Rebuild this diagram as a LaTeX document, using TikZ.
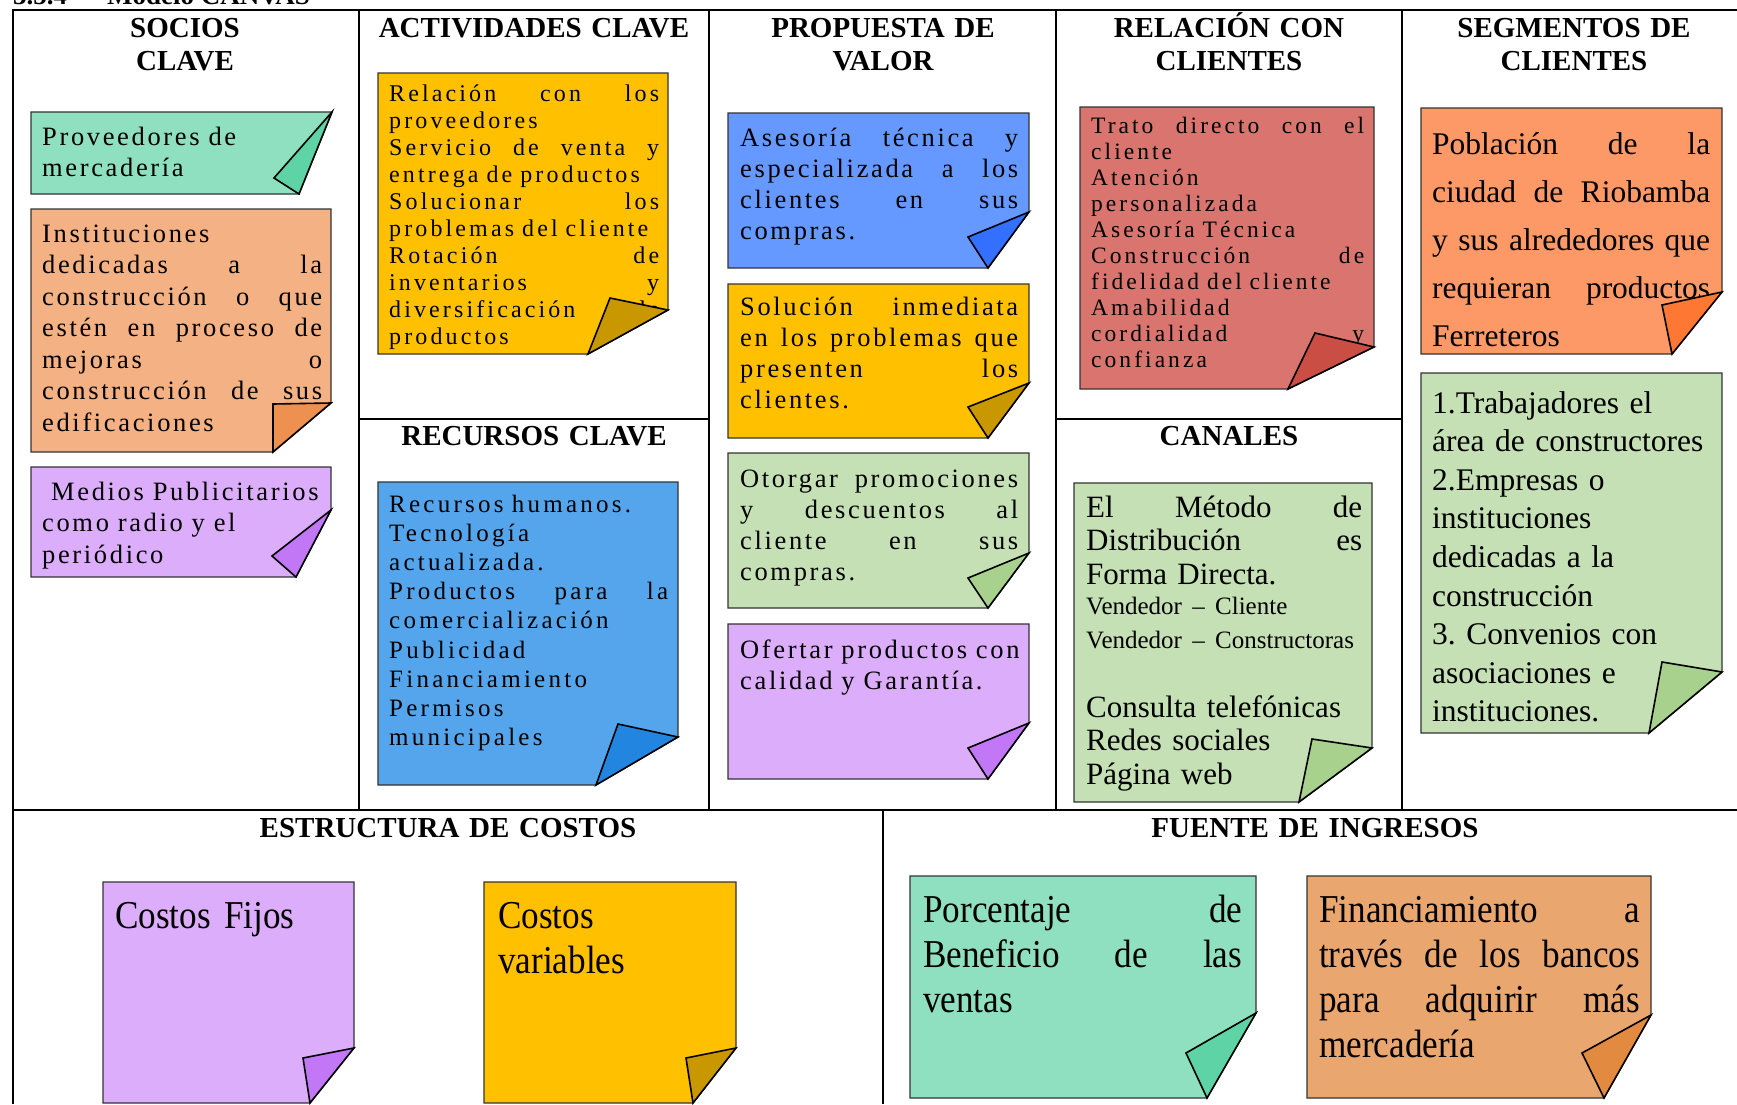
\documentclass[tikz,border=0pt]{standalone}
\usepackage{fontspec}
\setmainfont{Liberation Serif}
\newfontfamily\narrowserif[FakeStretch=0.89]{Liberation Serif}
\newfontfamily\trackserif[LetterSpace=10]{Liberation Serif}
\newfontfamily\widetrackserif[LetterSpace=13]{Liberation Serif}
\usetikzlibrary{positioning}

% sticky note colours (body / folded corner)
\definecolor{mint}{HTML}{8EE0C0}   \definecolor{mintFold}{HTML}{5DD3A6}
\definecolor{salmon}{HTML}{F4B183} \definecolor{salmonFold}{HTML}{EE9150}
\definecolor{lilac}{HTML}{DCADFB}  \definecolor{lilacFold}{HTML}{C278F6}
\definecolor{gold}{HTML}{FFC000}   \definecolor{goldFold}{HTML}{C99700}
\definecolor{sky}{HTML}{6699FF}    \definecolor{skyFold}{HTML}{3370FF}
\definecolor{sage}{HTML}{C5E0B4}   \definecolor{sageFold}{HTML}{A9D18E}
\definecolor{rose}{HTML}{D9746E}   \definecolor{roseFold}{HTML}{CB4E45}
\definecolor{azure}{HTML}{55A5EC}  \definecolor{azureFold}{HTML}{2286E0}
\definecolor{tanger}{HTML}{FC9966} \definecolor{tangerFold}{HTML}{FE7733}
\definecolor{sand}{HTML}{EAA66F}   \definecolor{sandFold}{HTML}{E38A41}

% x0/y0/x1/y1/corner y/bottom x/fold x/fold y/colour
\def\notelist{31/112/332/194/112/299/274/178/mint,
  31/209/331/452/403/273/273/404/salmon,
  31/467/331/577/510/296/272/556/lilac,
  378/73/668/354/310/588/610/298/gold,
  378/482/678/785/737/596/618/724/azure,
  728/113/1029/268/212/988/968/237/sky,
  728/284/1029/438/383/988/968/407/gold,
  728/453/1029/608/553/988/968/578/sage,
  728/624/1029/779/723/988/968/748/lilac,
  1080/107/1374/389/347/1288/1315/333/rose,
  1074/483/1372/802/748/1299/1312/739/sage,
  1421/108/1722/354/292/1672/1662/305/tanger,
  1421/373/1722/733/672/1649/1662/662/sage,
  103/882/354/1103/1048/310/303/1058/lilac,
  484/882/736/1103/1048/693/686/1058/gold,
  910/876/1256/1098/1013/1207/1186/1053/mint,
  1307/876/1651/1098/1015/1604/1582/1053/sand}

\begin{document}
\begin{tikzpicture}[x=1pt,y=-1pt,
    frame/.style={line width=2.6pt},
    head/.style={font=\bfseries\fontsize{29}{33}\selectfont,text width=420pt,align=center,anchor=base,inner sep=0pt},
    sheet/.style={draw=black!80,line width=1.3pt},
    fold/.style={draw=black,line width=1.6pt},
    txt/.style={anchor=base west,inner sep=0pt,align=left},
    socio/.style={txt,text width=280pt,font=\trackserif\fontsize{26.5}{31.5}\selectfont},
    actividad/.style={txt,text width=270pt,font=\widetrackserif\fontsize{24}{27.1}\selectfont},
    recurso/.style={txt,text width=279pt,font=\widetrackserif\fontsize{25}{29.2}\selectfont},
    propuesta/.style={txt,text width=278pt,font=\trackserif\fontsize{26.5}{31}\selectfont},
    relacion/.style={txt,text width=273pt,font=\widetrackserif\fontsize{23.5}{26}\selectfont},
    canal/.style={txt,text width=276pt,font=\fontsize{31}{33.5}\selectfont},
    segmento/.style={txt,text width=278pt,font=\fontsize{31.5}{48}\selectfont},
    costo/.style={txt,text width=330pt,font=\narrowserif\fontsize{39.5}{45}\selectfont}]
    \useasboundingbox (0,0) rectangle (1737,1104);

    % canvas frame
    \draw[frame] (13,1104) -- (13,10) -- (1737,10);
    \draw[frame] (13,810) -- (1737,810);
    \foreach \x in {359,709,1056,1402} {
        \draw[frame] (\x,10) -- (\x,810);
    }
    \draw[frame] (359,419) -- (709,419);
    \draw[frame] (1056,419) -- (1402,419);
    \draw[frame] (883,810) -- (883,1104);

    \node[anchor=base west,inner sep=0pt,font=\bfseries\fontsize{27}{30}\selectfont] (secTitle) at (13,4) {3.5.4\hspace{40pt}Modelo CANVAS};

    % block titles
    \node[head] (sociosHead) at (185,37) {SOCIOS\\CLAVE};
    \node[head] (actividadesHead) at (534,37) {ACTIVIDADES CLAVE};
    \node[head] (propuestaHead) at (883,37) {PROPUESTA DE\\VALOR};
    \node[head] (relacionHead) at (1229,37) {RELACIÓN CON\\CLIENTES};
    \node[head] (segmentosHead) at (1574,37) {SEGMENTOS DE\\CLIENTES};
    \node[head] (recursosHead) at (534,445) {RECURSOS CLAVE};
    \node[head] (canalesHead) at (1229,445) {CANALES};
    \node[head] (costosHead) at (448,837) {ESTRUCTURA DE COSTOS};
    \node[head] (ingresosHead) at (1315,837) {FUENTE DE INGRESOS};

    % sticky notes
    \foreach \xa/\ya/\xb/\yb/\ry/\bx/\fx/\fy/\col in \notelist {
        \filldraw[sheet,fill=\col] (\xa,\ya) -- (\xb,\ya) -- (\xb,\ry) -- (\bx,\yb) -- (\xa,\yb) -- cycle;
    }

    \node[socio] (provText) at (42,145) {Proveedores de\\mercadería};
    \node[socio] (instText) at (42,242) {Instituciones\\dedicadas\hfill a\hfill la\\construcción\hfill o\hfill que\\estén\hfill en\hfill proceso\hfill de\\mejoras\hfill o\\construcción\hfill de\hfill sus\\edificaciones};
    \node[socio] (mediosText) at (42,500) {\hspace*{9pt}Medios Publicitarios\\como radio y el\\periódico};

    \node[actividad] (actText) at (389,101) {Relación\hfill con\hfill los\\proveedores\\Servicio\hfill de\hfill venta\hfill y\\entrega de productos\\Solucionar\hfill los\\problemas del cliente\\Rotación\hfill de\\inventarios\hfill y\\diversificación\hfill de\\productos};
    \node[recurso] (recursosText) at (389,512) {Recursos humanos.\\Tecnología\\actualizada.\\Productos\hfill para\hfill la\\comercialización\\Publicidad\\Financiamiento\\Permisos\\municipales};

    \node[propuesta] (asesoriaText) at (740,146) {Asesoría\hfill técnica\hfill y\\especializada\hfill a\hfill los\\clientes\hfill en\hfill sus\\compras.};
    \node[propuesta] (solucionText) at (740,315) {Solución\hfill inmediata\\en\hfill los\hfill problemas\hfill que\\presenten\hfill los\\clientes.};
    \node[propuesta] (otorgarText) at (740,487) {Otorgar\hfill promociones\\y\hfill descuentos\hfill al\\cliente\hfill en\hfill sus\\compras.};
    \node[propuesta] (ofertarText) at (740,658) {\mbox{Ofertar productos con}\\calidad y Garantía.};

    \node[relacion] (tratoText) at (1091,133) {Trato\hfill directo\hfill con\hfill el\\cliente\\Atención\\personalizada\\Asesoría Técnica\\Construcción\hfill de\\fidelidad del cliente\\Amabilidad\\cordialidad\hfill y\\confianza};
    \node[canal] (canalText) at (1086,517) {El\hfill Método\hfill de\\Distribución\hfill es\\Forma Directa.\\[-3pt]{\fontsize{25}{33.5}\selectfont\mbox{Vendedor – Cliente}\\\mbox{Vendedor – Constructoras}\\[35.5pt]}Consulta telefónicas\\Redes sociales\\Página web};

    \node[segmento] (poblacionText) at (1432,154) {Población\hfill de\hfill la\\ciudad\hfill de\hfill Riobamba\\y\hfill sus\hfill alrededores\hfill que\\requieran\hfill productos\\Ferreteros};
    \node[segmento,font=\fontsize{31.5}{38.6}\selectfont] (trabajText) at (1432,413) {1.Trabajadores el\\área de constructores\\2.Empresas o\\instituciones\\dedicadas a la\\construcción\\3.\ Convenios con\\asociaciones e\\instituciones.};

    \node[costo] (fijosText) at (115,928) {Costos Fijos};
    \node[costo] (variablesText) at (498,928) {Costos\\variables};
    \node[costo,text width=319pt] (porcentajeText) at (923,922) {Porcentaje\hfill de\\Beneficio\hfill de\hfill las\\ventas};
    \node[costo,text width=321pt] (financText) at (1319,922) {Financiamiento\hfill a\\través\hfill de\hfill los\hfill bancos\\para\hfill adquirir\hfill más\\mercadería};

    % curled corners
    \foreach \xa/\ya/\xb/\yb/\ry/\bx/\fx/\fy/\col in \notelist {
        \filldraw[fold,fill=\col Fold] (\xb,\ry) -- (\fx,\fy) -- (\bx,\yb) -- cycle;
    }
\end{tikzpicture}
\end{document}
